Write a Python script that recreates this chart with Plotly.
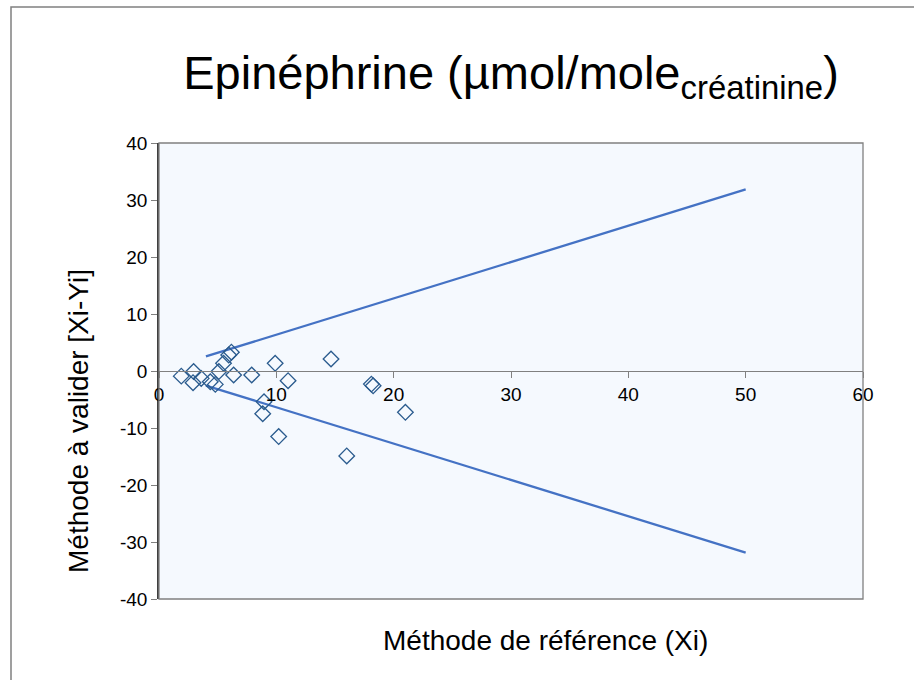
import plotly.graph_objects as go

# Data
ref_x = [1.9, 2.95, 2.9, 3.6, 4.37, 4.8, 5.1, 5.5, 5.94, 6.17, 6.36,
         7.9, 9.9, 11.0, 8.95, 8.84, 10.2, 14.66, 18.1, 18.25, 21.0, 16.0]
diff_y = [-0.9, -0.1, -2.05, -1.3, -1.9, -2.35, -0.1, 1.35, 2.8, 3.3, -0.7,
          -0.7, 1.35, -1.7, -5.4, -7.5, -11.5, 2.1, -2.3, -2.6, -7.25, -14.9]
limit_x = [4, 50]
upper_y = [2.55, 31.85]
lower_y = [-2.55, -31.85]

x_ticks = [0, 10, 20, 30, 40, 50, 60]
y_ticks = [-40, -30, -20, -10, 0, 10, 20, 30, 40]
y_ticklabels = ["-40", "-30", "-20", "-10", "0", "10", "20", "30", "40"]

title_text = "Epinéphrine (µmol/mole<sub>créatinine</sub>)"
x_title = "Méthode de référence (Xi)"
y_title = "Méthode à valider [Xi-Yi]"

FONT = "Liberation Sans, Arial, sans-serif"
LINE_COLOR = "#4472C4"
MARKER_COLOR = "#2A5B8E"

fig = go.Figure()
fig.add_trace(go.Scatter(x=limit_x, y=upper_y, mode="lines",
                         line=dict(color=LINE_COLOR, width=2.3), hoverinfo="skip"))
fig.add_trace(go.Scatter(x=limit_x, y=lower_y, mode="lines",
                         line=dict(color=LINE_COLOR, width=2.3), hoverinfo="skip"))
fig.add_trace(go.Scatter(x=ref_x, y=diff_y, mode="markers",
                         marker=dict(symbol="diamond-open", size=12,
                                     color=MARKER_COLOR, line=dict(width=1.3, color=MARKER_COLOR))))

L, R, T, B = 159, 51, 143, 81
W, H = 914, 680
pw, ph = W - L - R, H - T - B

fig.update_layout(
    width=W, height=H,
    margin=dict(l=L, r=R, t=T, b=B),
    paper_bgcolor="white",
    plot_bgcolor="#F5F9FE",
    showlegend=False,
    font=dict(family=FONT, color="black", size=19),
    title=dict(text=title_text, x=0.5, xref="paper", xanchor="center",
               y=1 - 73 / H, yanchor="middle", yref="container",
               font=dict(size=47, family=FONT, color="black")),
    xaxis=dict(range=[0, 60], tickvals=x_ticks,
               showgrid=False, zeroline=False,
               showline=True, linecolor="#808080", linewidth=1.3,
               ticks="outside", ticklen=6, tickcolor="#808080",
               anchor="free", position=0.5,
               tickfont=dict(size=19, family=FONT, color="black")),
    yaxis=dict(range=[-40, 40], tickvals=y_ticks, ticktext=y_ticklabels,
               showgrid=False, zeroline=False,
               showline=True, linecolor="#404040", linewidth=1.5,
               ticks="outside", ticklen=6, tickcolor="#808080",
               tickfont=dict(size=19, family=FONT, color="black")),
)

# plot-area frame
fig.add_shape(type="rect", xref="paper", yref="paper", x0=0, y0=0, x1=1, y1=1,
              line=dict(color="#808080", width=1.3), layer="above")
# outer chart border
fig.add_shape(type="rect", xref="paper", yref="paper",
              x0=(11 - L) / pw, y0=(599 - 7) / ph,
              x1=(W + 20 - L) / pw, y1=-(B + 20) / ph,
              line=dict(color="#808080", width=1.5), layer="below")

fig.add_annotation(text=x_title, xref="paper", yref="paper",
                   x=(545 - L) / pw, y=(599 - 640) / ph,
                   showarrow=False, xanchor="center", yanchor="middle",
                   font=dict(size=28, family=FONT, color="black"))
fig.add_annotation(text=y_title, xref="paper", yref="paper",
                   x=(78 - L) / pw, y=(599 - 421) / ph, textangle=-90,
                   showarrow=False, xanchor="center", yanchor="middle",
                   font=dict(size=28, family=FONT, color="black"))

fig.write_html("out.html", config={"displayModeBar": False},
               post_script="document.body.style.margin='0';document.body.style.padding='0';")
